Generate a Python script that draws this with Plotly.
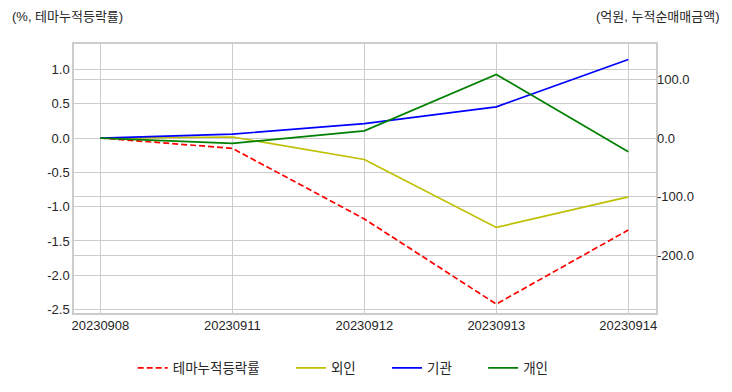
import plotly.graph_objects as go

dates = ["20230908", "20230911", "20230912", "20230913", "20230914"]
theme_ret = [0.0, -0.15, -1.18, -2.42, -1.34]
foreign = [0.0, 2.0, -36.5, -152.7, -100.3]
institution = [0.0, 6.8, 25.0, 53.5, 134.5]
individual = [0.0, -9.0, 12.5, 109.0, -23.4]

left_ticks = [-2.5, -2.0, -1.5, -1.0, -0.5, 0.0, 0.5, 1.0]
right_ticks = [-200, -100, 0, 100]

FONT = "Liberation Sans, Noto Sans CJK KR, sans-serif"
TXT = "#262626"
GRID = "#cccccc"
PAD = "\u00a0" * 7

fig = go.Figure()
fig.add_trace(go.Scatter(x=dates, y=theme_ret, name="테마누적등락률" + PAD, mode="lines",
                         line=dict(color="#ff0000", width=1.7, dash="6px,3px"), yaxis="y"))
fig.add_trace(go.Scatter(x=dates, y=foreign, name="외인" + PAD, mode="lines",
                         line=dict(color="#bfbf00", width=1.7), yaxis="y2"))
fig.add_trace(go.Scatter(x=dates, y=institution, name="기관" + PAD, mode="lines",
                         line=dict(color="#0000ff", width=1.7), yaxis="y2"))
fig.add_trace(go.Scatter(x=dates, y=individual, name="개인", mode="lines",
                         line=dict(color="#008000", width=1.7), yaxis="y2"))

fig.update_layout(
    width=724, height=384,
    margin=dict(l=66, r=76, t=36, b=79, autoexpand=False),
    paper_bgcolor="white", plot_bgcolor="white",
    font=dict(family=FONT, size=13, color=TXT),
    xaxis=dict(type="category", range=[-0.2, 4.21], showgrid=True, gridcolor=GRID,
               gridwidth=1, showline=True, linecolor=GRID, linewidth=1.5, mirror=True,
               ticks="", tickfont=dict(size=13, color=TXT), zeroline=False,
               automargin=False),
    yaxis=dict(range=[-2.55, 1.37], tickvals=left_ticks,
               ticktext=[f"{v:.1f}" for v in left_ticks],
               showgrid=True, gridcolor=GRID, gridwidth=1, zeroline=False,
               showline=True, linecolor=GRID, linewidth=1.5, mirror=True,
               ticks="", tickfont=dict(size=13, color=TXT), automargin=False),
    yaxis2=dict(range=[-299, 161], tickvals=right_ticks,
                ticktext=[f"{v:.1f}" for v in right_ticks],
                overlaying="y", side="right", showgrid=True, gridcolor=GRID,
                gridwidth=1, zeroline=False, ticks="",
                tickfont=dict(size=13, color=TXT), automargin=False),
    legend=dict(orientation="h", xref="container", x=0.463, xanchor="center",
                yref="container", y=0.0625, yanchor="middle",
                font=dict(size=13.5, color=TXT), bgcolor="rgba(0,0,0,0)"),
    showlegend=True,
    annotations=[
        dict(text="(%, 테마누적등락률)", xref="paper", yref="paper", x=-0.11, y=1.104,
             xanchor="left", yanchor="middle", showarrow=False,
             font=dict(size=13, color=TXT)),
        dict(text="(억원, 누적순매매금액)", xref="paper", yref="paper", x=1.113, y=1.104,
             xanchor="right", yanchor="middle", showarrow=False,
             font=dict(size=13, color=TXT)),
    ],
)

fig.write_html("out.html")
